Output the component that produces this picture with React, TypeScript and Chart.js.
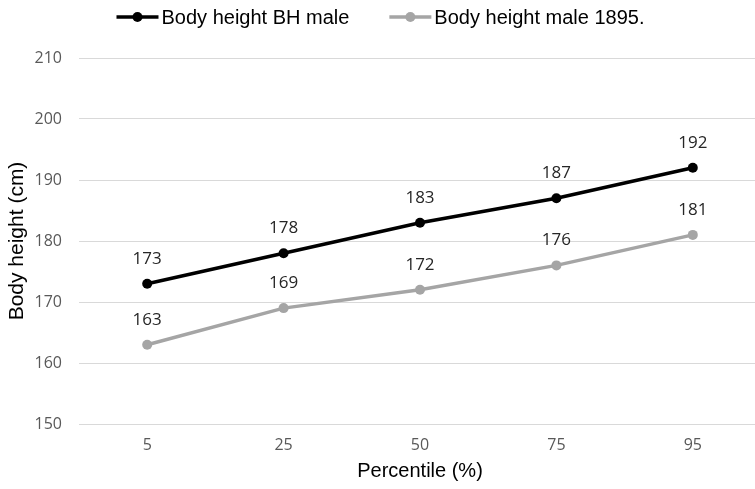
import React, { useEffect, useRef } from "react";
import { Chart, registerables } from "chart.js";

Chart.register(...registerables);

const categories = ["5", "25", "50", "75", "95"];
const bhMale = [173, 178, 183, 187, 192];
const male1895 = [163, 169, 172, 176, 181];
const seriesNames = ["Body height BH male", "Body height male 1895."];
const seriesColors = ["#000000", "#A5A5A5"];
const yMin = 150;
const yMax = 210;
const yStep = 10;

const legendPlugin = {
  id: "lineLegend",
  afterDraw(chart: any) {
    const ctx = chart.ctx;
    ctx.save();
    ctx.font = '20px "Liberation Sans", Arial, sans-serif';
    ctx.textBaseline = "middle";
    ctx.textAlign = "left";
    const lineLen = 42;
    const textGap = 3;
    const itemGap = 40;
    const widths = chart.data.datasets.map((d: any) => ctx.measureText(d.label).width);
    let total = 0;
    widths.forEach((w: number, i: number) => {
      total += lineLen + textGap + w + (i < widths.length - 1 ? itemGap : 0);
    });
    let x = (761 - total) / 2;
    const y = 17;
    chart.data.datasets.forEach((d: any, i: number) => {
      ctx.strokeStyle = d.borderColor;
      ctx.lineWidth = 3.5;
      ctx.beginPath();
      ctx.moveTo(x, y);
      ctx.lineTo(x + lineLen, y);
      ctx.stroke();
      ctx.fillStyle = d.pointBackgroundColor;
      ctx.beginPath();
      ctx.arc(x + lineLen / 2, y, 5, 0, Math.PI * 2);
      ctx.fill();
      ctx.fillStyle = "#000000";
      ctx.fillText(d.label, x + lineLen + textGap, y + 1);
      x += lineLen + textGap + widths[i] + itemGap;
    });
    ctx.restore();
  },
};

const dataLabelPlugin = {
  id: "dataLabels",
  afterDatasetsDraw(chart: any) {
    const ctx = chart.ctx;
    ctx.save();
    ctx.font = '17px "Open Sans", sans-serif';
    ctx.fillStyle = "#262626";
    ctx.textAlign = "center";
    ctx.textBaseline = "middle";
    chart.data.datasets.forEach((d: any, i: number) => {
      const meta = chart.getDatasetMeta(i);
      meta.data.forEach((pt: any, j: number) => {
        ctx.fillText(String(d.data[j]), pt.x, pt.y - 25);
      });
    });
    ctx.restore();
  },
};

export default function App() {
  const ref = useRef<HTMLCanvasElement | null>(null);
  useEffect(() => {
    if (!ref.current) return;
    const chart = new Chart(ref.current, {
      type: "line",
      data: {
        labels: categories,
        datasets: [
          {
            label: seriesNames[0],
            data: bhMale,
            borderColor: seriesColors[0],
            backgroundColor: seriesColors[0],
            pointBackgroundColor: seriesColors[0],
            pointBorderColor: seriesColors[0],
            borderWidth: 3.5,
            pointRadius: 5,
            pointBorderWidth: 0,
            tension: 0,
          },
          {
            label: seriesNames[1],
            data: male1895,
            borderColor: seriesColors[1],
            backgroundColor: seriesColors[1],
            pointBackgroundColor: seriesColors[1],
            pointBorderColor: seriesColors[1],
            borderWidth: 3.5,
            pointRadius: 5,
            pointBorderWidth: 0,
            tension: 0,
          },
        ],
      },
      options: {
        responsive: false,
        animation: false,
        layout: { padding: { top: 58, left: 0, right: 0, bottom: 0 } },
        plugins: {
          legend: { display: false },
          tooltip: { enabled: false },
        },
        scales: {
          x: {
            offset: true,
            grid: { display: false, drawTicks: false },
            border: { display: false },
            ticks: {
              color: "#595959",
              font: { family: '"Open Sans", sans-serif', size: 16 },
              padding: 12,
            },
            title: {
              display: true,
              text: "Percentile (%)",
              color: "#000000",
              font: { family: '"Liberation Sans", Arial, sans-serif', size: 20 },
              padding: { top: 0, bottom: 6 },
            },
            afterFit: (s: any) => {
              s.height = 65;
            },
          },
          y: {
            min: yMin,
            max: yMax,
            grid: { color: "#D9D9D9", lineWidth: 1, drawTicks: false },
            border: { display: false },
            ticks: {
              stepSize: yStep,
              color: "#595959",
              font: { family: '"Open Sans", sans-serif', size: 16 },
              padding: 17,
            },
            title: {
              display: true,
              text: "Body height (cm)",
              color: "#000000",
              font: { family: '"Liberation Sans", Arial, sans-serif', size: 21 },
              padding: { top: 5, bottom: 0 },
            },
            afterFit: (s: any) => {
              s.width = 79;
            },
          },
        },
      },
      plugins: [legendPlugin, dataLabelPlugin],
    });
    return () => chart.destroy();
  }, []);
  return (
    <div
      style={{
        position: "absolute",
        left: 0,
        top: 0,
        width: 755,
        height: 489,
        overflow: "hidden",
        background: "#ffffff",
      }}
    >
      <canvas ref={ref} width={766} height={489} style={{ width: 766, height: 489, display: "block" }} />
    </div>
  );
}
